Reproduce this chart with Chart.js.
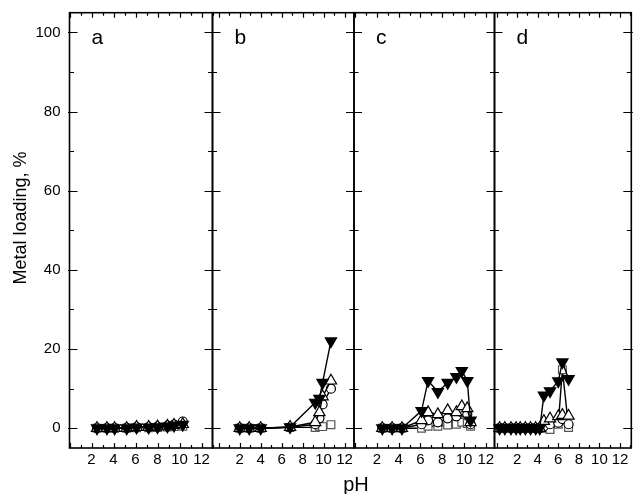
<!DOCTYPE html>
<html>
<head>
<meta charset="utf-8">
<script src="https://cdn.jsdelivr.net/npm/chart.js@4.4.0/dist/chart.umd.min.js"></script>
<style>
  html, body { margin: 0; padding: 0; background: #fff; }
  #wrap { position: relative; width: 639px; height: 494px; }
  #wrap canvas { position: absolute; left: 0; top: 0; }
</style>
</head>
<body>
<div id="wrap">
  <canvas id="pa" width="639" height="494"></canvas>
  <canvas id="pb" width="639" height="494"></canvas>
  <canvas id="pc" width="639" height="494"></canvas>
  <canvas id="pd" width="639" height="494"></canvas>
</div>
<script>
/* ---- data ---- */
var yTicks = [0, 20, 40, 60, 80, 100];
var xTicks = [2, 4, 6, 8, 10, 12];
var panelLetters = ['a', 'b', 'c', 'd'];

// panel a
var phA     = [2.5, 3.4, 4.1, 5.2, 6.1, 7.2, 8.0, 8.9, 9.5, 10.3];
var downA   = [0, 0, 0, 0, 0.2, 0.2, 0.3, 0.5, 0.7, 0.9];
var upA     = [0, 0, 0, 0, 0.3, 0.3, 0.4, 0.6, 0.8, 1.0];
var circA   = [0, 0, 0, 0.1, 0.3, 0.3, 0.4, 0.6, 0.9, 1.7];
var sqA     = [0, 0, 0, 0, 0.1, 0.1, 0.2, 0.3, 0.4, 0.5];

// panel b
var phB     = [2.0, 2.9, 4.0, 6.8, 9.2, 9.6, 9.9, 10.7];
var downB   = [0, 0, 0, 0.3, 6.5, 7.5, 11.5, 22];
var upB     = [0, 0, 0, 0.3, 1.5, 4, 8, 12];
var circB   = [0, 0, 0, 0.2, 1, 2.5, 6, 10];
var sqB     = [0, 0, 0, 0.2, 0.2, 0.5, 0.4, 0.9];

// panel c
var phC     = [2.5, 3.4, 4.3, 6.1, 6.7, 7.6, 8.5, 9.3, 9.8, 10.3, 10.6];
var downC   = [0, 0, 0, 4.4, 12, 9.2, 11.5, 13, 14.5, 12, 2];
var upC     = [0, 0, 0, 2, 4, 3.5, 4.5, 4, 5.5, 5, 1.5];
var circC   = [0, 0, 0, 1, 2, 1.5, 2.5, 3, 4, 3.5, 1];
var sqC     = [0, 0, 0, 0, 0.5, 0.5, 0.8, 1, 1.5, 1.2, 0.5];

// panel d
var phD     = [0.3, 0.8, 1.4, 1.9, 2.3, 2.8, 3.3, 3.8, 4.2, 4.6, 5.2, 6.0, 6.4, 7.0];
var downD   = [0, 0, 0, 0, 0, 0, 0, 0, 0, 8.3, 9.4, 11.9, 16.7, 12.5];
var upD     = [0, 0, 0, 0, 0, 0, 0, 0, 0, 1.8, 2.4, 3.0, 3.3, 3.1];
var circD   = [0, 0, 0, 0, 0, 0, 0, 0, 0, 0.5, 1.0, 1.4, 2.3, 1.0];
var sqD     = [0, 0, 0, 0, 0, 0, 0, 0, 0, 0, -0.3, 1.0, 14.8, 0.2];

/* ---- layout ---- */
var W = 639, H = 494;
var TOP = 12.7, BOTTOM = 448;
var Y_MIN = -5, Y_MAX = 105;
var panels = [
  { id: 'pa', left: 69.5,  right: 212.5, xmin: 0,    xmax: 13.0, ph: phA, down: downA, up: upA, circ: circA, sq: sqA },
  { id: 'pb', left: 212.5, right: 354,   xmin: -0.6, xmax: 12.9, ph: phB, down: downB, up: upB, circ: circB, sq: sqB },
  { id: 'pc', left: 354,   right: 494.5, xmin: -0.1, xmax: 12.8, ph: phC, down: downC, up: upC, circ: circC, sq: sqC },
  { id: 'pd', left: 494.5, right: 640,   xmin: -0.2, xmax: 13.1, ph: phD, down: downD, up: upD, circ: circD, sq: sqD }
];

var FONT = '"Liberation Sans", Arial, Helvetica, sans-serif';

function series(ph, vals, shape, rot, fill, edge, r) {
  return {
    data: ph.map(function(x, k) { return { x: x, y: vals[k] }; }),
    borderColor: '#000',
    borderWidth: 1.4,
    pointStyle: shape,
    pointRotation: rot,
    pointRadius: r,
    pointBackgroundColor: fill,
    pointBorderColor: edge,
    pointBorderWidth: 1.2,
    tension: 0,
    clip: false
  };
}

// axes frame, inward ticks, labels
var framePlugin = {
  id: 'frame',
  afterDraw: function(chart, args, opts) {
    var ctx = chart.ctx, a = chart.chartArea;
    var xs = chart.scales.x, ys = chart.scales.y;
    ctx.save();
    ctx.strokeStyle = '#000';
    ctx.fillStyle = '#000';
    ctx.lineWidth = 1.6;
    ctx.strokeRect(a.left, a.top, a.right - a.left, a.bottom - a.top);

    ctx.lineWidth = 1.2;
    ctx.beginPath();
    for (var v = Math.ceil(xs.min); v <= Math.floor(xs.max); v++) {
      var px = Math.round(xs.getPixelForValue(v)) + 0.5;
      var len = v % 2 === 0 ? 5 : 3;
      ctx.moveTo(px, a.bottom); ctx.lineTo(px, a.bottom - len);
      ctx.moveTo(px, a.top); ctx.lineTo(px, a.top + len);
    }
    for (var t = 0; t <= 100; t += 10) {
      var py = Math.round(ys.getPixelForValue(t)) + 0.5;
      var major = t % 20 === 0;
      var inL = major ? 8 : 4.5, outL = major ? 1.5 : 0;
      ctx.moveTo(a.left - outL, py); ctx.lineTo(a.left + inL, py);
      ctx.moveTo(a.right + outL, py); ctx.lineTo(a.right - inL, py);
    }
    ctx.stroke();

    ctx.font = '15px ' + FONT;
    ctx.textAlign = 'center';
    ctx.textBaseline = 'middle';
    xTicks.forEach(function(v) {
      ctx.fillText(String(v), xs.getPixelForValue(v), a.bottom + 12);
    });

    if (opts.first) {
      ctx.textAlign = 'right';
      yTicks.forEach(function(v) {
        ctx.fillText(String(v), a.left - 9, ys.getPixelForValue(v));
      });
      ctx.save();
      ctx.translate(21, 218);
      ctx.rotate(-Math.PI / 2);
      ctx.textAlign = 'center';
      ctx.font = '18px ' + FONT;
      ctx.fillText('Metal loading, %', 0, 0);
      ctx.restore();
    }
    if (opts.xTitle) {
      ctx.textAlign = 'center';
      ctx.textBaseline = 'alphabetic';
      ctx.font = '20px ' + FONT;
      ctx.fillText('pH', 356, 491);
    }

    ctx.textAlign = 'left';
    ctx.textBaseline = 'alphabetic';
    ctx.font = '21px ' + FONT;
    ctx.fillText(opts.letter, a.left + 22, 43.5);
    ctx.restore();
  }
};

panels.forEach(function(p, i) {
  new Chart(document.getElementById(p.id), {
    type: 'line',
    data: {
      datasets: [
        series(p.ph, p.down, 'triangle', 180, '#000', '#000', 6.5),
        series(p.ph, p.up,   'triangle', 0,   '#fff', '#000', 6.5),
        series(p.ph, p.circ, 'circle',   0,   '#fff', '#000', 4.5),
        series(p.ph, p.sq,   'rect',     0,   '#fff', '#555', 5.5)
      ]
    },
    options: {
      responsive: false,
      animation: false,
      layout: { padding: { left: p.left, right: W - p.right, top: TOP, bottom: H - BOTTOM } },
      plugins: {
        legend: { display: false },
        tooltip: { enabled: false },
        frame: { first: i === 0, xTitle: i === 1, letter: panelLetters[i] }
      },
      scales: {
        x: { type: 'linear', min: p.xmin, max: p.xmax, display: false },
        y: { type: 'linear', min: Y_MIN, max: Y_MAX, display: false }
      }
    },
    plugins: [framePlugin]
  });
});
</script>
</body>
</html>
